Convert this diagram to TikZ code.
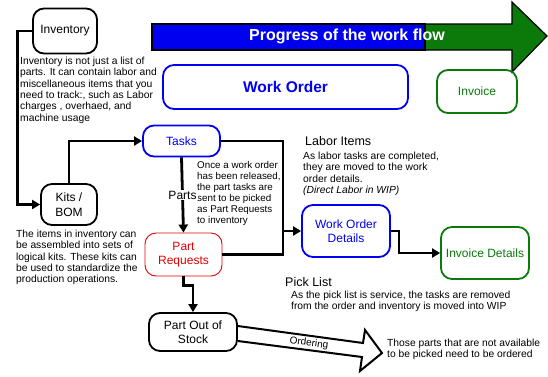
\documentclass[tikz,border=0pt]{standalone}
\usepackage{fontspec}
\setmainfont{Liberation Sans}
\usetikzlibrary{positioning,arrows.meta,calc}
\definecolor{flowblue}{HTML}{0000F0}
\definecolor{flowgreen}{HTML}{0B7A0B}
\definecolor{reqred}{HTML}{E00000}

\begin{document}
\begin{tikzpicture}[x=1pt,y=-1pt,
    box/.style={draw,line width=1.8pt,rounded corners=11pt,inner sep=0pt,
          align=center,font=\fontsize{12}{14.5}\selectfont},
    note/.style={anchor=north west,inner sep=0pt,align=left,
          font=\fontsize{10.3}{11.3}\selectfont},
    heading/.style={anchor=north west,inner sep=0pt,font=\fontsize{12.5}{14}\selectfont},
    conn/.style={line width=2.8pt,-{Triangle[length=8pt,width=9pt]}},
    wire/.style={line width=2.8pt}]
    \fill[white] (0,0) rectangle (548,376);
    \useasboundingbox (0,0) rectangle (548,376);

    % progress banner
    \draw[fill=flowgreen,line width=1.2pt] (425,24) -- (512,24) -- (512,2) -- (547,36)
        -- (512,72) -- (512,50) -- (425,50);
    \draw[fill=flowblue,line width=1.2pt] (152,24) rectangle (425,50);
    \node[text=white,font=\fontsize{16}{18}\selectfont\bfseries] (progress) at (347,36)
      {Progress of the work flow};

    % boxes
    \node[box,minimum width=245pt,minimum height=44pt,draw=flowblue,text=flowblue,
          font=\fontsize{15.5}{18}\selectfont\bfseries] (workorder) at (285.5,87) {Work Order};
    \node[box,minimum width=80pt,minimum height=43pt,draw=flowgreen,text=flowgreen] (invoice) at (477,91.5) {Invoice};
    \node[box,minimum width=64pt,minimum height=45pt] (inventory) at (65,31) {Inventory};
    \node[box,minimum width=56pt,minimum height=41pt] (kits) at (69,204.5) {Kits /\\BOM};
    \node[box,minimum width=77pt,minimum height=31pt,draw=flowblue,text=flowblue] (tasks) at (181.5,141) {Tasks};
    \node[box,minimum width=77pt,minimum height=43pt,draw=reqred,line width=0.9pt,text=reqred] (partreq) at (183.5,254.5) {Part\\Requests};
    \node[box,minimum width=88pt,minimum height=52pt,draw=flowblue,text=flowblue] (wodetails) at (346,231) {Work Order\\Details};
    \node[box,minimum width=88pt,minimum height=52pt,draw=flowgreen,text=flowgreen] (invdetails) at (485,253) {Invoice Details};
    \node[box,minimum width=88pt,minimum height=38pt] (outofstock) at (193,332) {Part Out of\\Stock};

    % notes
    \node[note] (inventorynote) at (20,57) {Inventory is not just a list of\\parts. It can contain labor and\\miscellaneous items that you\\need to track:, such as Labor\\charges , overhaed, and\\machine usage};
    \node[note] (kitsnote) at (16,230) {The items in inventory can\\be assembled into sets of\\logical kits. These kits can\\be used to standardize the\\production operations.};
    \node[note,font=\fontsize{9.8}{10.9}\selectfont] (tasksnote) at (197,161.5) {Once a work order\\has been released,\\the part tasks are\\sent to be picked\\as Part Requests\\to inventory};
    \node[heading] (laborhead) at (305,136) {Labor Items};
    \node[note] (labornote) at (303,152) {As labor tasks are completed,\\they are moved to the work\\order details.\\\textit{(Direct Labor in WIP)}};
    \node[heading] (pickhead) at (285,277) {Pick List};
    \node[note] (picknote) at (291,291) {As the pick list is service, the tasks are removed\\from the order and inventory is moved into WIP};
    \node[note] (ordernote) at (387,339) {Those parts that are not available\\to be picked need to be ordered};

    % connectors
    \coordinate (bus) at (283,231);
    \draw[conn] (inventory.west) -- ++(-15,0) |- (kits.west);
    \draw[conn] (kits.north) |- (tasks.west);
    \draw[conn] (tasks.south) -- node[fill=white,inner sep=1pt,font=\fontsize{12}{14}\selectfont] (partslbl) {Parts} (partreq.north);
    \draw[wire] (tasks.east) -| (bus);
    \draw[wire] (partreq.east) -| (bus);
    \draw[conn] (bus) -- (wodetails.west);
    \draw[conn] (wodetails.east) -- ++(8,0) |- (invdetails.west);
    \draw[conn] (partreq.south) -- ++(0,9) -| (outofstock.north);

    % ordering arrow
    \draw[line width=2pt,line join=miter] ($(outofstock.east)+(0,-6)$) -- (363,343) -- (365,330) -- (382,353)
        -- (360,371) -- (362,357) -- ($(outofstock.east)+(0,9)$);
    \node[font=\fontsize{10}{12}\selectfont,rotate=-7.5] (orderlbl) at (309,343.5) {Ordering};
\end{tikzpicture}
\end{document}
